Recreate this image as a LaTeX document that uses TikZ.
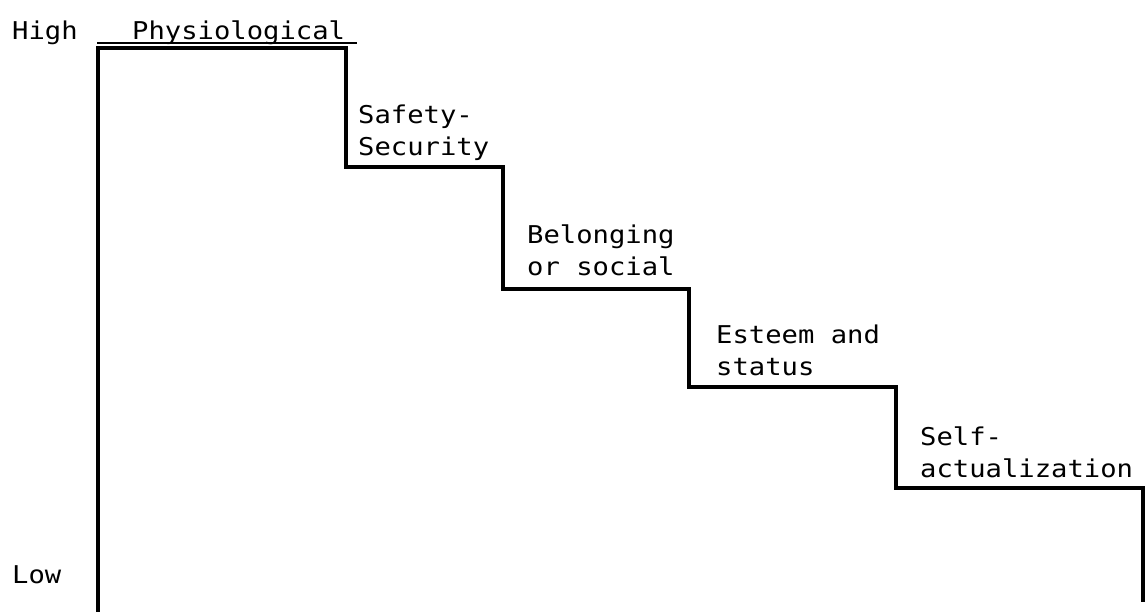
\documentclass[tikz,border=0pt]{standalone}
\usepackage{fontspec}
\newfontfamily\tw[FakeStretch=1.11]{DejaVu Sans Mono}
\begin{document}
\begin{tikzpicture}[x=1pt,y=-1pt,
  lbl/.style={anchor=base west,inner sep=0pt,align=left,font=\tw\fontsize{24.5}{32}\selectfont},
  stair/.style={line width=4.5pt,line join=miter,line cap=rect},
  rule/.style={line width=1.3pt}]
\useasboundingbox (0,0) rectangle (1148,611);
\fill[white] (0,0) rectangle (1148,611);
% corner points of the staircase
\coordinate (p0) at (98,611);
\coordinate (p1) at (98,48);
\coordinate (p2) at (346,48);
\coordinate (p3) at (346,167);
\coordinate (p4) at (503,167);
\coordinate (p5) at (503,289);
\coordinate (p6) at (689,289);
\coordinate (p7) at (689,387);
\coordinate (p8) at (896,387);
\coordinate (p9) at (896,488);
\coordinate (p10) at (1143,488);
\coordinate (p11) at (1143,600);
\coordinate (r0) at (97,43);
\coordinate (r1) at (357,43);
\draw[stair] (p0) -- (p1) -- (p2) -- (p3) -- (p4) -- (p5) -- (p6) -- (p7) -- (p8) -- (p9) -- (p10) -- (p11);
\draw[rule] (r0) -- (r1);
\node[lbl] (high) at (12,39) {High};
\node[lbl] (phys) at (132,39) {Physiological};
\node[lbl] (safe) at (358,155) {Safety-\\Security};
\node[lbl] (belong) at (527,275) {Belonging\\or social};
\node[lbl] (esteem) at (716,375) {Esteem and\\status};
\node[lbl] (self) at (920,477) {Self-\\actualization};
\node[lbl] (low) at (12,583) {Low};
\end{tikzpicture}
\end{document}
